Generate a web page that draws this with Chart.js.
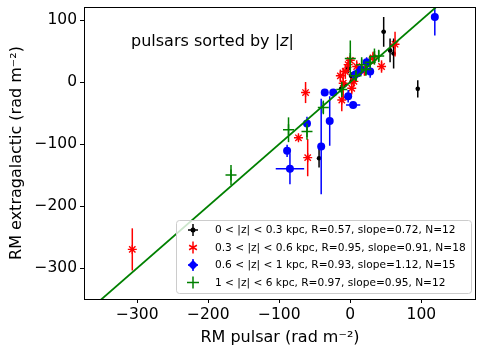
<!DOCTYPE html>
<html>
<head>
<meta charset="utf-8">
<script src="https://cdn.jsdelivr.net/npm/chart.js@4"></script>
<style>
  html, body { margin: 0; padding: 0; background: #fff; }
  #wrap { width: 484px; height: 355px; position: relative; }
</style>
</head>
<body>
<div id="wrap"><canvas id="rmChart"></canvas></div>
<script>
// Eksen işaretleri
const xTicks = [-300, -200, -100, 0, 100];
const yTicks = [-300, -200, -100, 0, 100];

// Etiketler
const titleText = 'pulsars sorted by |';
const legendLabels = [
    '0 < |z| < 0.3 kpc, R=0.57, slope=0.72, N=12',
    '0.3 < |z| < 0.6 kpc, R=0.95, slope=0.91, N=18',
    '0.6 < |z| < 1 kpc, R=0.93, slope=1.12, N=15',
    '1 < |z| < 6 kpc, R=0.97, slope=0.95, N=12'
];

// 0 < |z| < 0.3 kpc
const blackX = [47, 95, 56, 61, -44, -13, 2, -3, 1, 6, -8, 12];
const blackY = [81, -11, 51, 46, -123, -11, 1, 22, 10, 5, -4, 14];
const blackXerr = [3, 2, 3, 3, 2, 2, 2, 2, 2, 2, 2, 2];
const blackYerr = [24, 14, 19, 24, 15, 6, 5, 8, 6, 5, 5, 6];

// 0.3 < |z| < 0.6 kpc
const redX = [-307, -63, -73, -60, 63, 44, 32, -7, 2, -10, -12, -3, 9, 5, -14, 15, 20, 0];
const redY = [-270, -17, -90, -122, 61, 25, 39, 17, -10, -2, -29, 28, 25, 1, 10, 20, 18, 35];
const redYerr = [34, 17, 5, 30, 20, 10, 10, 12, 10, 25, 18, 10, 10, 8, 10, 8, 8, 8];

// 0.6 < |z| < 1 kpc
const blueX = [119, -36, -24, -61, -29, -41, -89, -85, 23, 28, 11, 7, -3, 4, 15];
const blueY = [105, -17, -17, -67, -63, -104, -111, -140, 32, 17, 15, 12, -23, -37, 20];
const blueXerr = [3, 2, 2, 3, 3, 3, 3, 20, 3, 3, 3, 3, 3, 10, 3];
const blueYerr = [30, 5, 5, 11, 40, 77, 10, 25, 8, 10, 6, 6, 10, 5, 6];

// 1 < |z| < 6 kpc
const greenX = [-168, -87, -61, -38, 0, 34, 16, 22, -12, 8, 40, 28];
const greenY = [-150, -77, -80, -41, 38, 41, 28, 20, -12, 10, 42, 32];
const greenYerr = [16, 20, 13, 11, 29, 13, 12, 10, 12, 8, 10, 8];

// Uyum doğrusu
const fitX = [-400, 200];
const fitY = [-400, 200];

function toPoints(xs, ys) {
    return xs.map((x, i) => ({ x: x, y: ys[i] }));
}

const FONT = 'DejaVu Sans';

// Hata çubukları (her veri kümesinden hemen önce)
const errorBars = {
    id: 'errorBars',
    beforeDatasetDraw(chart, args) {
        const ds = chart.data.datasets[args.index];
        if (!ds.yerr && !ds.xerr) return;
        const xs = chart.scales.x, ys = chart.scales.y, a = chart.chartArea;
        const ctx = chart.ctx;
        ctx.save();
        ctx.beginPath();
        ctx.rect(a.left, a.top, a.right - a.left, a.bottom - a.top);
        ctx.clip();
        ctx.strokeStyle = ds.errColor;
        ctx.lineWidth = 1.5;
        ds.data.forEach((p, i) => {
            const px = xs.getPixelForValue(p.x), py = ys.getPixelForValue(p.y);
            ctx.beginPath();
            if (ds.yerr) {
                ctx.moveTo(px, ys.getPixelForValue(p.y - ds.yerr[i]));
                ctx.lineTo(px, ys.getPixelForValue(p.y + ds.yerr[i]));
            }
            if (ds.xerr) {
                ctx.moveTo(xs.getPixelForValue(p.x - ds.xerr[i]), py);
                ctx.lineTo(xs.getPixelForValue(p.x + ds.xerr[i]), py);
            }
            ctx.stroke();
        });
        ctx.restore();
    }
};

// Çerçeve, başlık ve lejant
const decorations = {
    id: 'decorations',
    afterDraw(chart) {
        const ctx = chart.ctx, a = chart.chartArea;
        ctx.save();
        ctx.strokeStyle = '#000';
        ctx.lineWidth = 1;
        ctx.strokeRect(a.left + 0.5, a.top + 0.5, a.right - a.left - 1, a.bottom - a.top);

        // başlık
        ctx.fillStyle = '#000';
        ctx.textBaseline = 'middle';
        ctx.font = '16px "' + FONT + '"';
        let tx = 131;
        ctx.fillText(titleText, tx, 42);
        tx += ctx.measureText(titleText).width;
        ctx.font = 'italic 16px "' + FONT + '"';
        ctx.fillText('z', tx, 42);
        tx += ctx.measureText('z').width;
        ctx.font = '16px "' + FONT + '"';
        ctx.fillText('|', tx, 42);

        // lejant kutusu
        const bx = 176.5, by = 220.5, bw = 295, bh = 73;
        ctx.beginPath();
        ctx.roundRect(bx, by, bw, bh, 3);
        ctx.fillStyle = 'rgba(255,255,255,0.8)';
        ctx.fill();
        ctx.strokeStyle = '#cccccc';
        ctx.stroke();

        const colors = ['#000000', '#ff0000', '#0000ff', '#008000'];
        ctx.font = '10.6px "' + FONT + '"';
        legendLabels.forEach((label, i) => {
            const cy = 230 + i * 17.5, cx = 193;
            ctx.strokeStyle = colors[i];
            ctx.fillStyle = colors[i];
            ctx.lineWidth = 1.5;
            ctx.beginPath();
            if (i === 0) {
                ctx.moveTo(cx - 5, cy); ctx.lineTo(cx + 5, cy);
                ctx.moveTo(cx, cy - 6); ctx.lineTo(cx, cy + 6);
                ctx.stroke();
                ctx.beginPath(); ctx.arc(cx, cy, 2.5, 0, Math.PI * 2); ctx.fill();
            } else if (i === 1) {
                ctx.moveTo(cx, cy - 6); ctx.lineTo(cx, cy + 6);
                for (let k = 0; k < 3; k++) {
                    const ang = Math.PI / 2 + k * Math.PI / 3;
                    ctx.moveTo(cx - 4.5 * Math.cos(ang), cy - 4.5 * Math.sin(ang));
                    ctx.lineTo(cx + 4.5 * Math.cos(ang), cy + 4.5 * Math.sin(ang));
                }
                ctx.stroke();
            } else if (i === 2) {
                ctx.moveTo(cx - 5, cy); ctx.lineTo(cx + 5, cy);
                ctx.moveTo(cx, cy - 6); ctx.lineTo(cx, cy + 6);
                ctx.stroke();
                ctx.beginPath();
                ctx.moveTo(cx, cy - 5); ctx.lineTo(cx + 5, cy);
                ctx.lineTo(cx, cy + 5); ctx.lineTo(cx - 5, cy);
                ctx.closePath(); ctx.fill();
            } else {
                ctx.moveTo(cx - 6, cy); ctx.lineTo(cx + 6, cy);
                ctx.moveTo(cx, cy - 6); ctx.lineTo(cx, cy + 6);
                ctx.stroke();
            }
            ctx.fillStyle = '#000';
            ctx.fillText(label, 215, cy + 0.5);
        });
        ctx.restore();
    }
};

const minus = v => String(v).replace('-', '\u2212');

new Chart(document.getElementById('rmChart'), {
    type: 'scatter',
    data: {
        datasets: [
            {
                label: 'fit', type: 'line', data: toPoints(fitX, fitY),
                borderColor: '#008000', borderWidth: 1.8, pointRadius: 0, order: 0
            },
            {
                label: legendLabels[3], data: toPoints(greenX, greenY), yerr: greenYerr,
                errColor: '#008000', pointStyle: 'cross', pointRadius: 5.5,
                borderColor: '#008000', borderWidth: 1.5, order: 1
            },
            {
                label: legendLabels[2], data: toPoints(blueX, blueY), yerr: blueYerr, xerr: blueXerr,
                errColor: '#0000ff', pointStyle: 'circle', pointRadius: 4,
                backgroundColor: '#0000ff', borderColor: '#0000ff', borderWidth: 0, order: 2
            },
            {
                label: legendLabels[1], data: toPoints(redX, redY), yerr: redYerr,
                errColor: '#ff0000', pointStyle: 'star', pointRadius: 4.5,
                borderColor: '#ff0000', borderWidth: 1.4, order: 3
            },
            {
                label: legendLabels[0], data: toPoints(blackX, blackY), yerr: blackYerr, xerr: blackXerr,
                errColor: '#000000', pointStyle: 'circle', pointRadius: 2.3,
                backgroundColor: '#000000', borderColor: '#000000', borderWidth: 0, order: 4
            }
        ]
    },
    options: {
        responsive: true,
        maintainAspectRatio: false,
        animation: false,
        events: [],
        layout: { padding: { top: 7, right: 8, left: 0, bottom: 0 } },
        plugins: { legend: { display: false }, tooltip: { enabled: false } },
        scales: {
            x: {
                type: 'linear', min: -375, max: 177,
                afterBuildTicks: s => { s.ticks = xTicks.map(v => ({ value: v })); },
                afterFit: s => { s.height = 56; s.paddingLeft = 0; s.paddingRight = 0; },
                grid: { drawOnChartArea: false, tickLength: 4, color: '#000', tickWidth: 1 },
                border: { display: false },
                ticks: { color: '#000', padding: 3, font: { family: FONT, size: 15.5 }, callback: minus, maxRotation: 0 },
                title: { display: true, text: 'RM pulsar (rad m\u207B\u00B2)', color: '#000',
                         font: { family: FONT, size: 16 }, padding: { top: 0, bottom: 8 } }
            },
            y: {
                type: 'linear', min: -350, max: 121,
                afterBuildTicks: s => { s.ticks = yTicks.map(v => ({ value: v })); },
                afterFit: s => { s.width = 84; s.paddingTop = 0; s.paddingBottom = 0; },
                grid: { drawOnChartArea: false, tickLength: 4, color: '#000', tickWidth: 1 },
                border: { display: false },
                ticks: { color: '#000', padding: 3, font: { family: FONT, size: 15.5 }, callback: minus },
                title: { display: true, text: 'RM extragalactic (rad m\u207B\u00B2)', color: '#000',
                         font: { family: FONT, size: 16 }, padding: { top: 7, bottom: 0 } }
            }
        }
    },
    plugins: [errorBars, decorations]
});
</script>
</body>
</html>
